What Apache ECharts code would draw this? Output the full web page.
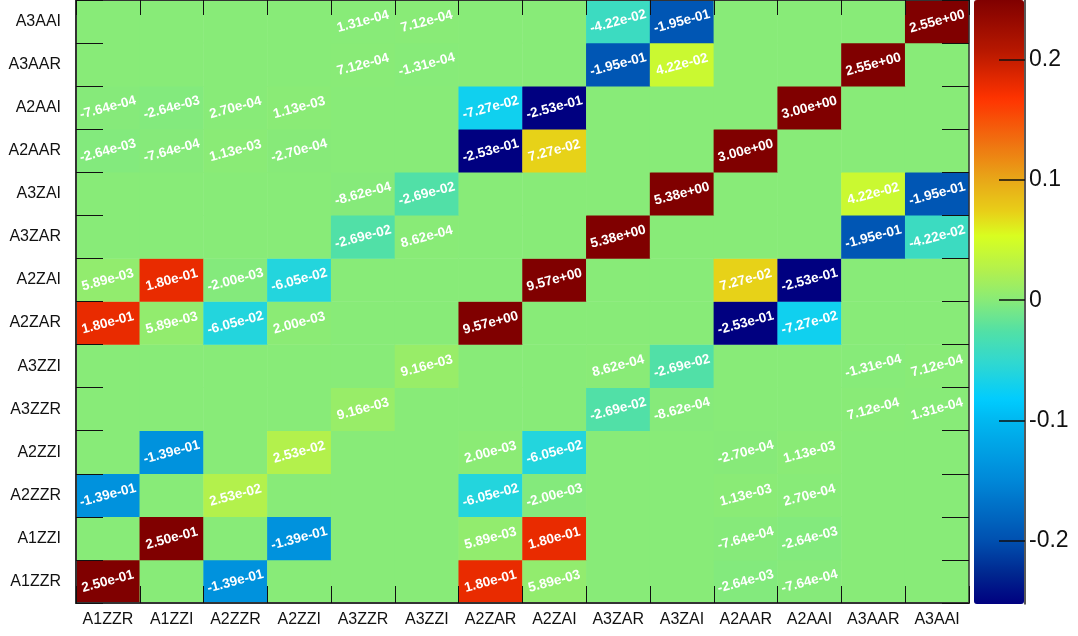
<!DOCTYPE html>
<html>
<head>
    <meta charset="utf-8"/>
    <title>correlation matrix</title>
    <script src="https://cdn.jsdelivr.net/npm/echarts@6/dist/echarts.min.js"></script>
    <style>
        html, body { margin: 0; padding: 0; background: #fff; }
        #chart { width: 1078px; height: 636px; }
    </style>
</head>
<body>
<div id="chart"></div>
<script>
    // axis categories (bottom -> top, left -> right)
    var names = ['A1ZZR', 'A1ZZI', 'A2ZZR', 'A2ZZI', 'A3ZZR', 'A3ZZI', 'A2ZAR', 'A2ZAI',
        'A3ZAR', 'A3ZAI', 'A2AAR', 'A2AAI', 'A3AAR', 'A3AAI'];

    // one row per y category, starting at the bottom row (A1ZZR)
    var rows = [
        [2.50e-01, 0, -1.39e-01, 0, 0, 0, 1.80e-01, 5.89e-03, 0, 0, -2.64e-03, -7.64e-04, 0, 0],
        [0, 2.50e-01, 0, -1.39e-01, 0, 0, 5.89e-03, 1.80e-01, 0, 0, -7.64e-04, -2.64e-03, 0, 0],
        [-1.39e-01, 0, 2.53e-02, 0, 0, 0, -6.05e-02, -2.00e-03, 0, 0, 1.13e-03, 2.70e-04, 0, 0],
        [0, -1.39e-01, 0, 2.53e-02, 0, 0, 2.00e-03, -6.05e-02, 0, 0, -2.70e-04, 1.13e-03, 0, 0],
        [0, 0, 0, 0, 9.16e-03, 0, 0, 0, -2.69e-02, -8.62e-04, 0, 0, 7.12e-04, 1.31e-04],
        [0, 0, 0, 0, 0, 9.16e-03, 0, 0, 8.62e-04, -2.69e-02, 0, 0, -1.31e-04, 7.12e-04],
        [1.80e-01, 5.89e-03, -6.05e-02, 2.00e-03, 0, 0, 9.57e+00, 0, 0, 0, -2.53e-01, -7.27e-02, 0, 0],
        [5.89e-03, 1.80e-01, -2.00e-03, -6.05e-02, 0, 0, 0, 9.57e+00, 0, 0, 7.27e-02, -2.53e-01, 0, 0],
        [0, 0, 0, 0, -2.69e-02, 8.62e-04, 0, 0, 5.38e+00, 0, 0, 0, -1.95e-01, -4.22e-02],
        [0, 0, 0, 0, -8.62e-04, -2.69e-02, 0, 0, 0, 5.38e+00, 0, 0, 4.22e-02, -1.95e-01],
        [-2.64e-03, -7.64e-04, 1.13e-03, -2.70e-04, 0, 0, -2.53e-01, 7.27e-02, 0, 0, 3.00e+00, 0, 0, 0],
        [-7.64e-04, -2.64e-03, 2.70e-04, 1.13e-03, 0, 0, -7.27e-02, -2.53e-01, 0, 0, 0, 3.00e+00, 0, 0],
        [0, 0, 0, 0, 7.12e-04, -1.31e-04, 0, 0, -1.95e-01, 4.22e-02, 0, 0, 2.55e+00, 0],
        [0, 0, 0, 0, 1.31e-04, 7.12e-04, 0, 0, -4.22e-02, -1.95e-01, 0, 0, 0, 2.55e+00]
    ];

    // colour scale range and the values that get a tick on the colour bar
    var zMin = -0.253;
    var zMax = 0.25;
    var zTicks = [-0.2, -0.1, 0, 0.1, 0.2];

    // palette stops
    var stops = [
        [-0.253, '#000080'], [-0.227, '#002890'], [-0.2, '#0050b0'], [-0.15, '#0088d8'],
        [-0.1, '#00b8f0'], [-0.083, '#00ccff'], [-0.052, '#30d8d0'], [-0.027, '#50e0a8'],
        [0, '#88eb78'], [0.023, '#b0f050'], [0.053, '#d8ff20'], [0.073, '#e8d018'],
        [0.1, '#e8a818'], [0.132, '#f07010'], [0.168, '#ff3300'], [0.207, '#b81800'],
        [0.25, '#800000']
    ];

    function hex2rgb(h) {
        return [parseInt(h.substr(1, 2), 16), parseInt(h.substr(3, 2), 16), parseInt(h.substr(5, 2), 16)];
    }

    function colorAt(v) {
        for (var i = 1; i < stops.length; i++) {
            if (v <= stops[i][0] || i === stops.length - 1) {
                var a = stops[i - 1], b = stops[i];
                var t = Math.max(0, Math.min(1, (v - a[0]) / (b[0] - a[0])));
                var ca = hex2rgb(a[1]), cb = hex2rgb(b[1]);
                return 'rgb(' + ca.map(function (c, k) {
                    return Math.round(c + (cb[k] - c) * t);
                }).join(',') + ')';
            }
        }
    }

    // evenly spaced colours for the visualMap gradient
    var palette = [];
    for (var i = 0; i <= 100; i++) {
        palette.push(colorAt(zMin + (zMax - zMin) * i / 100));
    }

    function sci(v) {
        return v.toExponential(2).replace(/e([+-])(\d)$/, 'e$10$2');
    }

    // [x, y, clamped value for colour, raw value]
    var data = [];
    rows.forEach(function (row, y) {
        row.forEach(function (v, x) {
            data.push([x, y, Math.max(zMin, Math.min(zMax, v)), v]);
        });
    });

    var font = '"Liberation Sans", Helvetica, Arial, sans-serif';
    var chart = echarts.init(document.getElementById('chart'), null, {renderer: 'canvas'});

    var catAxisBase = {
        type: 'category',
        data: names,
        gridIndex: 0,
        z: 5,
        splitLine: {show: false},
        splitArea: {show: false}
    };

    var option = {
        animation: false,
        backgroundColor: '#fff',
        grid: [
            {left: 76, top: 0, width: 893, height: 603},
            {left: 974, top: 0, width: 51, height: 604}
        ],
        xAxis: [
            Object.assign({}, catAxisBase, {
                position: 'bottom',
                axisLine: {show: true, lineStyle: {color: '#333', width: 2}},
                axisTick: {show: true, inside: true, length: 17, lineStyle: {color: '#111'}},
                axisLabel: {interval: 0, color: '#111', fontSize: 16, fontFamily: font, margin: 9}
            }),
            Object.assign({}, catAxisBase, {
                position: 'top',
                axisLine: {show: true, lineStyle: {color: '#333', width: 1}},
                axisTick: {show: true, inside: true, length: 15, lineStyle: {color: '#111'}},
                axisLabel: {show: false}
            }),
            {gridIndex: 1, type: 'value', show: false, min: 0, max: 1}
        ],
        yAxis: [
            Object.assign({}, catAxisBase, {
                position: 'left',
                axisLine: {show: true, lineStyle: {color: '#333', width: 2}},
                axisTick: {show: true, inside: true, length: 27, lineStyle: {color: '#111'}},
                axisLabel: {interval: 0, color: '#111', fontSize: 16, fontFamily: font, margin: 15}
            }),
            Object.assign({}, catAxisBase, {
                position: 'right',
                axisLine: {show: true, lineStyle: {color: '#333', width: 1.5}},
                axisTick: {show: true, inside: true, length: 27, lineStyle: {color: '#111'}},
                axisLabel: {show: false}
            }),
            {
                gridIndex: 1,
                type: 'value',
                position: 'right',
                z: 8,
                min: zMin,
                max: zMax,
                splitLine: {show: false},
                axisLine: {show: true, onZero: false, lineStyle: {color: '#222', width: 1.5}},
                axisTick: {show: true, inside: true, length: 26, customValues: zTicks, lineStyle: {color: '#111', width: 1.5}},
                axisLabel: {
                    customValues: zTicks,
                    color: '#111',
                    fontSize: 23,
                    fontFamily: font,
                    margin: 4,
                    formatter: function (v) {
                        return String(Math.round(v * 10) / 10);
                    }
                }
            }
        ],
        visualMap: {
            type: 'continuous',
            seriesIndex: 0,
            dimension: 2,
            min: zMin,
            max: zMax,
            calculable: false,
            hoverLink: false,
            orient: 'vertical',
            left: 974,
            top: 0,
            padding: 0,
            itemWidth: 50,
            itemHeight: 604,
            text: ['', ''],
            inRange: {color: palette}
        },
        series: [{
            type: 'heatmap',
            xAxisIndex: 0,
            yAxisIndex: 0,
            data: data,
            encode: {x: 0, y: 1},
            itemStyle: {borderWidth: 0},
            label: {
                show: true,
                rotate: 15,
                color: '#fff',
                fontSize: 13.5,
                fontWeight: 'bold',
                fontFamily: font,
                formatter: function (p) {
                    var v = p.value[3];
                    return v === 0 ? '' : sci(v);
                }
            }
        }]
    };
    chart.setOption(option);
</script>
</body>
</html>
